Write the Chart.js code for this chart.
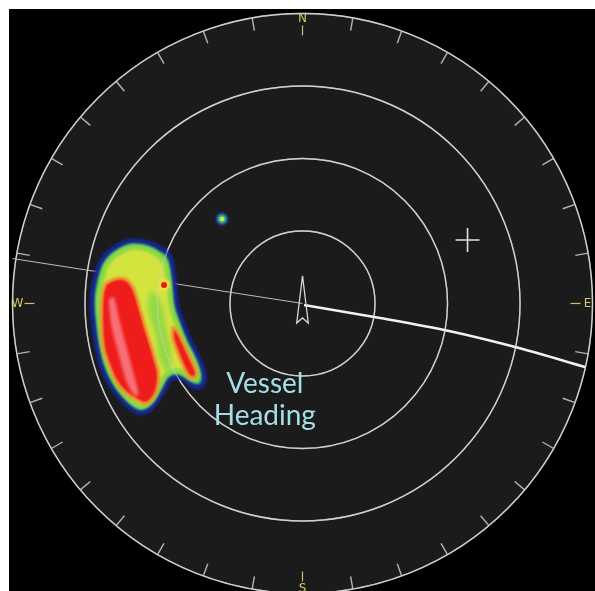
<!DOCTYPE html>
<html><head><meta charset="utf-8">
<script src="https://cdn.jsdelivr.net/npm/chart.js@4.4.1/dist/chart.umd.min.js"></script>
<style>html,body{margin:0;padding:0;background:#fff;overflow:hidden}canvas{display:block}</style>
</head><body>
<canvas id="c" width="595" height="591"></canvas>
<script>
// Positions in metres: x = east of vessel, y = north of vessel
const ringRanges = [100, 200, 300, 400];
const bearingTicks = [10,20,30,40,50,60,70,80,100,110,120,130,140,150,160,170,
  190,200,210,220,230,240,250,260,280,290,300,310,320,330,340,350];
const cardinalLabels = ['N', 'E', 'S', 'W'];
const cardinalBearings = [0, 90, 180, 270];

const headingLine = [[-400, 62], [0, 0]];
const trackLine = [[2.1, -2.1], [106.9, -20.0], [202.1, -37.9], [298.6, -61.4], [389.7, -87.6]];
const vesselIcon = [[0, 38], [8, -27], [0, -20], [-8, -27]];
const markerCross = [[227.6, 87.6]];

const echoOuter = [[-285.5,35.9],[-278.6,55.2],[-269.0,69.0],[-255.2,78.6],[-240.0,85.5],[-223.4,85.5],
  [-206.9,81.4],[-194.5,74.5],[-184.8,67.6],[-179.3,48.3],[-176.6,24.8],[-173.8,-2.8],[-166.9,-23.4],
  [-155.9,-51.0],[-144.8,-73.1],[-136.6,-95.2],[-137.9,-111.7],[-147.6,-114.5],[-158.6,-107.6],
  [-168.3,-102.1],[-182.1,-103.4],[-190.3,-117.2],[-197.2,-128.3],[-205.5,-140.7],[-213.8,-147.6],
  [-223.4,-150.3],[-237.2,-143.4],[-251.0,-129.7],[-264.8,-111.7],[-275.9,-88.3],[-282.8,-60.7],
  [-288.3,-23.4],[-289.7,8.3]];
const echoMid = [[-277.2,31.7],[-271.7,51.0],[-263.4,62.1],[-251.0,71.7],[-237.2,77.2],[-223.4,77.2],
  [-209.7,73.1],[-198.6,66.2],[-190.3,57.9],[-186.2,42.8],[-183.4,20.7],[-180.7,-4.1],[-173.8,-26.2],
  [-162.8,-53.8],[-151.7,-75.9],[-144.8,-95.2],[-146.2,-104.8],[-154.5,-103.4],[-164.1,-96.6],
  [-173.8,-92.4],[-186.2,-96.6],[-195.9,-111.7],[-204.1,-128.3],[-212.4,-137.9],[-223.4,-142.1],
  [-235.9,-135.2],[-248.3,-122.8],[-259.3,-106.2],[-269.0,-84.1],[-275.9,-57.9],[-280.0,-23.4],[-281.4,6.9]];
const echoStreak = [[-210.3,18.6],[-196.6,4.8],[-186.9,-36.6],[-180.0,-77.9],[-185.5,-94.5],
  [-196.6,-77.9],[-203.4,-43.4],[-213.1,-9.0]];
const echoCore = [[-271.7,27.6],[-260.7,33.1],[-246.9,34.5],[-237.2,27.6],[-230.3,13.8],[-223.4,-9.7],
  [-216.6,-33.1],[-209.7,-55.2],[-202.8,-78.6],[-198.6,-96.6],[-200.0,-115.9],[-206.9,-131.0],
  [-216.6,-137.9],[-227.6,-133.8],[-244.1,-122.8],[-257.9,-106.2],[-267.6,-82.8],[-274.5,-60.7],
  [-277.2,-23.4],[-275.9,13.8]];
const echoLobe = [[-179.3,-31.7],[-172.4,-38.6],[-162.8,-57.9],[-153.1,-78.6],[-146.2,-95.2],
  [-149.0,-102.1],[-157.2,-99.3],[-165.5,-84.1],[-173.8,-63.4],[-179.3,-46.9]];
const echoPeak = [[-267.6,4.1],[-260.7,9.7],[-252.4,-23.4],[-241.4,-64.8],[-229.0,-111.7],[-226.2,-125.5],
  [-231.7,-126.9],[-242.8,-107.6],[-253.8,-69.0],[-263.4,-31.7]];
const echoDot = [[-191, 25.5]];
const smallTarget = [[-111, 116.6]];

const labelLines = ['Vessel', 'Heading'];
const labelAnchor = [-52, -124];

const pts = a => a.map(p => ({x: p[0], y: p[1]}));
const closed = a => pts(a.concat([a[0]]));

function poly(data, fillC, borderC, bw, order, blur, tension) {
  return {data: closed(data), backgroundColor: fillC, borderColor: borderC, borderWidth: bw,
    fill: 'shape', pointRadius: 0, tension: tension, order: order, blur: blur};
}
function dot(data, color, r, order, blur) {
  return {data: pts(data), showLine: false, pointRadius: r, backgroundColor: color,
    borderWidth: 0, pointBorderWidth: 0, order: order, blur: blur};
}

const datasets = [
  {data: pts(headingLine), borderColor: '#bcbcbc', borderWidth: 1, pointRadius: 0, fill: false, order: 20},
  poly(echoOuter, '#42cc52', '#12209c', 5, 19, 1.6, 0.4),
  poly(echoMid, '#d4e43e', '#8cd84a', 5, 18, 1.8, 0.4),
  poly(echoStreak, 'rgba(130,214,70,0.75)', 'rgba(0,0,0,0)', 0, 17.5, 2.0, 0.4),
  poly(echoCore, '#ef1c1c', '#f0a030', 2.5, 17, 1.0, 0.4),
  poly(echoLobe, '#ef1c1c', '#f0a030', 2.5, 16, 1.0, 0.4),
  poly(echoPeak, 'rgba(250,140,150,0.75)', 'rgba(0,0,0,0)', 0, 15, 1.5, 0.3),
  dot(echoDot, '#f0e040', 6, 14, 1.0),
  dot(echoDot, '#e81818', 3, 13, 0.6),
  dot(smallTarget, '#1a30b0', 6.5, 12, 0.8),
  dot(smallTarget, '#3cc860', 4.5, 11, 0.8),
  dot(smallTarget, '#e8e040', 2.2, 10, 0.6),
  {data: pts(trackLine), borderColor: '#f2f2f2', borderWidth: 2.5, pointRadius: 0, fill: false, tension: 0.3, order: 5},
  {data: closed(vesselIcon), borderColor: '#d6d6d6', borderWidth: 1.3, pointRadius: 0, fill: false, tension: 0, order: 4},
  {data: pts(markerCross), showLine: false, pointStyle: 'cross', pointRadius: 12,
    borderColor: '#e2e2e2', pointBorderWidth: 1.6, borderWidth: 1.6, order: 3}
];

function drawRings(chart, alpha) {
  const {ctx, scales: {x, y}} = chart;
  const cx = x.getPixelForValue(0), cy = y.getPixelForValue(0);
  ctx.save();
  ctx.globalAlpha = alpha;
  ctx.strokeStyle = '#d0d0d0';
  ctx.lineWidth = 1.4;
  ringRanges.forEach(r => {
    const R = x.getPixelForValue(r) - cx;
    ctx.beginPath(); ctx.arc(cx, cy, R, 0, 2 * Math.PI); ctx.stroke();
  });
  ctx.restore();
}

const sonarPlugin = {
  id: 'sonar',
  beforeDatasetsDraw(chart) {
    const {ctx, chartArea: a, scales: {x, y}} = chart;
    const cx = x.getPixelForValue(0), cy = y.getPixelForValue(0);
    const R = x.getPixelForValue(ringRanges[ringRanges.length - 1]) - cx;
    ctx.save();
    ctx.fillStyle = '#000';
    ctx.fillRect(a.left, a.top, a.right - a.left, a.bottom - a.top);
    ctx.beginPath(); ctx.arc(cx, cy, R, 0, 2 * Math.PI);
    ctx.fillStyle = '#1b1b1b'; ctx.fill();
    ctx.restore();
    drawRings(chart, 1);
    ctx.save();
    ctx.strokeStyle = '#b4b4b4'; ctx.lineWidth = 1.4;
    bearingTicks.forEach(b => {
      const t = b * Math.PI / 180, s = Math.sin(t), c = -Math.cos(t);
      ctx.beginPath();
      ctx.moveTo(cx + s * R, cy + c * R);
      ctx.lineTo(cx + s * (R - 13), cy + c * (R - 13));
      ctx.stroke();
    });
    ctx.fillStyle = '#d2ca6a'; ctx.strokeStyle = '#c8c070'; ctx.lineWidth = 1.2;
    ctx.font = '12px "DejaVu Sans"';
    ctx.textAlign = 'center'; ctx.textBaseline = 'middle';
    cardinalBearings.forEach((b, i) => {
      const t = b * Math.PI / 180, s = Math.sin(t), c = -Math.cos(t);
      ctx.fillText(cardinalLabels[i], cx + s * (R - 5), cy + c * (R - 5));
      ctx.beginPath();
      ctx.moveTo(cx + s * (R - 12), cy + c * (R - 12));
      ctx.lineTo(cx + s * (R - 22), cy + c * (R - 22));
      ctx.stroke();
    });
    ctx.restore();
    const metas = chart.getSortedVisibleDatasetMetas();
    const first = metas[metas.length - 1];
    const b = chart.data.datasets[first.index].blur;
    ctx.filter = b ? 'blur(' + b + 'px)' : 'none';
  },
  afterDatasetDraw(chart, args) {
    const ctx = chart.ctx;
    const metas = chart.getSortedVisibleDatasetMetas();
    const pos = metas.indexOf(args.meta);
    const next = metas[pos - 1];
    const b = next ? chart.data.datasets[next.index].blur : 0;
    ctx.filter = b ? 'blur(' + b + 'px)' : 'none';
  },
  afterDatasetsDraw(chart) {
    const {ctx, scales: {x, y}} = chart;
    ctx.filter = 'none';
    drawRings(chart, 0.45);
    ctx.save();
    ctx.fillStyle = '#a3dfe9';
    ctx.font = '28px Lato';
    ctx.textAlign = 'center'; ctx.textBaseline = 'alphabetic';
    const lx = x.getPixelForValue(labelAnchor[0]), ly = y.getPixelForValue(labelAnchor[1]);
    labelLines.forEach((t, i) => ctx.fillText(t, lx, ly + i * 32));
    ctx.restore();
  }
};

new Chart(document.getElementById('c'), {
  type: 'line',
  data: {datasets: datasets},
  options: {
    responsive: false, animation: false, events: [],
    layout: {autoPadding: false, padding: {left: 9, top: 9, right: 0, bottom: 0}},
    plugins: {legend: {display: false}, tooltip: {enabled: false}},
    scales: {
      x: {type: 'linear', min: -404.8, max: 403.4, display: false},
      y: {type: 'linear', min: -396.6, max: 406.2, display: false}
    }
  },
  plugins: [sonarPlugin]
});
</script>
</body></html>
